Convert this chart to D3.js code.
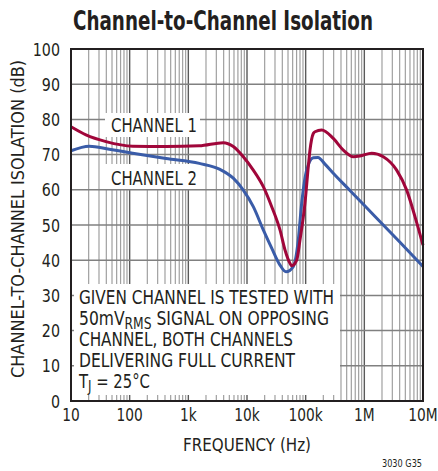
<!DOCTYPE html>
<html><head><meta charset="utf-8">
<script src="https://cdn.jsdelivr.net/npm/d3@7"></script>
<style>
body{margin:0;background:#fff;}
text{font-family:"Liberation Sans Narrow","Arial Narrow","DejaVu Sans Condensed",sans-serif;fill:#231f20;}
</style></head>
<body><svg id="c" width="438" height="471"></svg>
<script>
// Data (frequency in Hz, isolation in dB)
const ch1Freq = [10,18,39.5,112.6,416,1538,3945,5836,8646,12800,18960,26370,36500,44450,54070,57800,70300,80000,97300,110900,118500,134900,144200,187600,295600,437500,648200,843300,1333000,2104000,3557000,5270000,7297000,10000000];
const ch1dB   = [77.9,75.6,73.7,72.4,72.3,72.5,73.4,72.3,69.4,65.6,60.9,55.2,48.6,42.9,39.1,38.4,40,45.7,56.2,66.6,71.3,76,76.5,77,74.6,71.3,69.4,69.6,70.4,69.4,65.6,59.9,52.4,44.3];
const ch2Freq = [10,20.5,45,112.6,416,1538,3465,5836,8646,12800,18960,26370,36500,46200,61500,74800,85500,104000,134900,162200,213300,295600,569000,1096000,2104000,4053000,10000000];
const ch2dB   = [71.1,72.4,71.5,70.4,68.9,67.5,65.8,63.3,59.9,55.2,48.6,43.4,38.6,36.7,38.2,45.7,56.2,65.6,69.1,69.2,67.3,64.7,59.8,54.9,50,45.1,38.2];
const xTickValues = [10,100,1e3,1e4,1e5,1e6,1e7];
const xTickLabels = ["10","100","1k","10k","100k","1M","10M"];
const yTickValues = [0,10,20,30,40,50,60,70,80,90,100];
const seriesNames = ["CHANNEL 1","CHANNEL 2"];
const noteLines = ["GIVEN CHANNEL IS TESTED WITH","50mV|RMS| SIGNAL ON OPPOSING","CHANNEL, BOTH CHANNELS","DELIVERING FULL CURRENT","T|J| = 25°C"];
const noteWidths = [255,250,214,216,71];

const svg = d3.select("#c");
const L=71, R=423, T=49, B=401;
const x = d3.scaleLog().domain([10,1e7]).range([L,R]);
const y = d3.scaleLinear().domain([0,100]).range([B,T]);

function condense(sel,k){
  sel.each(function(){
    const w=this.getComputedTextLength();
    d3.select(this).attr("textLength",w*k).attr("lengthAdjust","spacingAndGlyphs");
  });
}

// minor + major vertical grid
const minor=[];
for(let d=10; d<1e7; d*=10) for(let k=2;k<=9;k++) minor.push(d*k);
svg.append("g").selectAll("line").data(minor).join("line")
  .attr("x1",d=>x(d)).attr("x2",d=>x(d)).attr("y1",T).attr("y2",B)
  .attr("stroke","#a0a0a0").attr("stroke-width",1.2);
svg.append("g").selectAll("line").data(xTickValues).join("line")
  .attr("x1",d=>x(d)).attr("x2",d=>x(d)).attr("y1",T).attr("y2",B)
  .attr("stroke","#5a5a5a").attr("stroke-width",1.4);
svg.append("g").selectAll("line").data(yTickValues).join("line")
  .attr("x1",L).attr("x2",R).attr("y1",d=>y(d)).attr("y2",d=>y(d))
  .attr("stroke","#808080").attr("stroke-width",1.5);

// white label boxes
svg.append("rect").attr("x",105).attr("y",113).attr("width",95).attr("height",24).attr("fill","#fff");
svg.append("rect").attr("x",105).attr("y",164).attr("width",95).attr("height",25).attr("fill","#fff");
svg.append("rect").attr("x",74).attr("y",284).attr("width",266).attr("height",111).attr("fill","#fff");

// curves
const line = d3.line().x(d=>x(d[0])).y(d=>y(d[1])).curve(d3.curveMonotoneX);
svg.append("path").datum(ch2Freq.map((f,i)=>[f,ch2dB[i]])).attr("d",line)
  .attr("fill","none").attr("stroke","#3a5ca8").attr("stroke-width",3);
svg.append("path").datum(ch1Freq.map((f,i)=>[f,ch1dB[i]])).attr("d",line)
  .attr("fill","none").attr("stroke","#a0063a").attr("stroke-width",3);

// frame
svg.append("rect").attr("x",L).attr("y",T).attr("width",R-L).attr("height",B-T)
  .attr("fill","none").attr("stroke","#231f20").attr("stroke-width",2);

// axes labels
svg.append("g").selectAll("text").data(yTickValues).join("text")
  .attr("x",60).attr("y",d=>y(d)+6.5).attr("text-anchor","end")
  .attr("font-size",18).text(d=>d).call(condense,0.88);
svg.append("g").selectAll("text").data(xTickValues).join("text")
  .attr("x",d=>x(d)).attr("y",421).attr("text-anchor","middle")
  .attr("font-size",18).text((d,i)=>xTickLabels[i]).call(condense,0.85);

svg.append("text").attr("x",247).attr("y",451).attr("text-anchor","middle")
  .attr("font-size",18).attr("textLength",128).attr("lengthAdjust","spacingAndGlyphs").text("FREQUENCY (Hz)");
svg.append("text").attr("transform","translate(24,219) rotate(-90)").attr("text-anchor","middle")
  .attr("font-size",18).attr("textLength",318).attr("lengthAdjust","spacingAndGlyphs").text("CHANNEL-TO-CHANNEL ISOLATION (dB)");
svg.append("text").attr("x",223).attr("y",30).attr("text-anchor","middle")
  .attr("font-size",26).attr("font-weight","bold").attr("textLength",300).attr("lengthAdjust","spacingAndGlyphs")
  .text("Channel-to-Channel Isolation");
svg.append("text").attr("x",422).attr("y",467).attr("text-anchor","end")
  .attr("font-size",11).attr("textLength",40).attr("lengthAdjust","spacingAndGlyphs").text("3030 G35");

// series labels
svg.append("text").attr("x",111).attr("y",132).attr("font-size",19).attr("textLength",86).attr("lengthAdjust","spacingAndGlyphs").text(seriesNames[0]);
svg.append("text").attr("x",111).attr("y",185).attr("font-size",19).attr("textLength",86).attr("lengthAdjust","spacingAndGlyphs").text(seriesNames[1]);

// note
noteLines.forEach((s,i)=>{
  const parts=s.split("|");
  const t=svg.append("text").attr("x",79).attr("y",304+i*21).attr("font-size",19)
    .attr("textLength",noteWidths[i]).attr("lengthAdjust","spacingAndGlyphs");
  parts.forEach((p,j)=>{
    const ts=t.append("tspan").text(p);
    if(j===1) ts.attr("font-size",15).attr("dy",4);
    if(j===2) ts.attr("dy",-4);
  });
});
</script></body></html>
